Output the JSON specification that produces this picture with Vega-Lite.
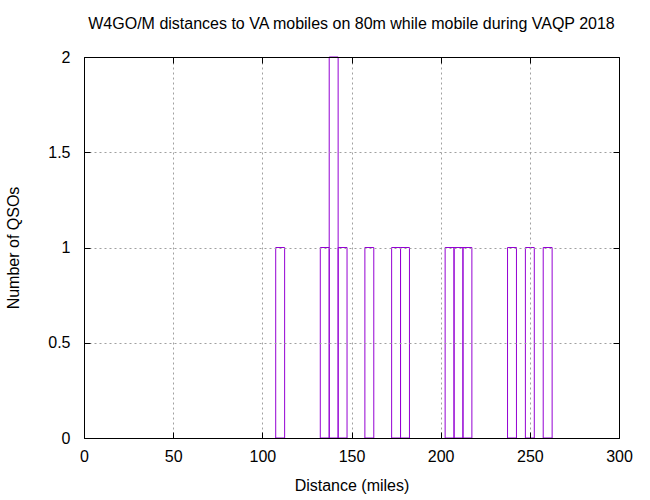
{
  "$schema": "https://vega.github.io/schema/vega-lite/v6.json",
  "width": 535,
  "height": 381,
  "autosize": {"type": "none"},
  "padding": {"left": 84, "top": 57, "right": 31, "bottom": 62},
  "background": "white",
  "title": {"text": "W4GO/M distances to VA mobiles on 80m while mobile during VAQP 2018", "font": "Liberation Sans", "fontSize": 16, "fontWeight": "normal", "color": "black", "offset": 17},
  "config": {"view": {"stroke": null}, "font": "Liberation Sans"},
  "data": {"values": [
    {"start": 107.5, "end": 112.5, "count": 1},
    {"start": 132.5, "end": 137.5, "count": 1},
    {"start": 137.5, "end": 142.5, "count": 2},
    {"start": 142.5, "end": 147.5, "count": 1},
    {"start": 157.5, "end": 162.5, "count": 1},
    {"start": 172.5, "end": 177.5, "count": 1},
    {"start": 177.5, "end": 182.5, "count": 1},
    {"start": 202.5, "end": 207.5, "count": 1},
    {"start": 207.5, "end": 212.5, "count": 1},
    {"start": 212.5, "end": 217.5, "count": 1},
    {"start": 237.5, "end": 242.5, "count": 1},
    {"start": 247.5, "end": 252.5, "count": 1},
    {"start": 257.5, "end": 262.5, "count": 1}
  ]},
  "resolve": {"axis": {"x": "independent", "y": "independent"}},
  "layer": [
    {
      "mark": {"type": "bar", "filled": false, "stroke": "#9400d3", "strokeWidth": 1, "fill": null},
      "encoding": {
        "x": {"field": "start", "type": "quantitative", "scale": {"domain": [0, 300], "nice": false, "zero": false},
          "axis": {"orient": "bottom", "values": [0, 50, 100, 150, 200, 250, 300], "title": "Distance (miles)", "titleFont": "Liberation Sans", "titleFontSize": 16, "titleFontWeight": "normal", "titleColor": "black", "titlePadding": 13,
            "labelFont": "Liberation Sans", "labelFontSize": 16, "labelColor": "black", "labelPadding": 16, "labelFlush": false, "labelOverlap": false,
            "tickSize": -6, "tickColor": "black", "tickWidth": 1, "domain": true, "domainColor": "black", "domainWidth": 1,
            "grid": true, "gridColor": "#a0a0a0", "gridDash": [2, 3], "gridWidth": 1, "zindex": 1}},
        "x2": {"field": "end"},
        "y": {"field": "count", "type": "quantitative", "scale": {"domain": [0, 2], "nice": false},
          "axis": {"orient": "left", "values": [0, 0.5, 1, 1.5, 2], "format": "~g", "title": "Number of QSOs", "titleFont": "Liberation Sans", "titleFontSize": 16, "titleFontWeight": "normal", "titleColor": "black", "titlePadding": 26,
            "labelFont": "Liberation Sans", "labelFontSize": 16, "labelColor": "black", "labelPadding": 20, "labelFlush": false, "labelOverlap": false,
            "tickSize": -6, "tickColor": "black", "tickWidth": 1, "domain": true, "domainColor": "black", "domainWidth": 1,
            "grid": true, "gridColor": "#a0a0a0", "gridDash": [2, 3], "gridWidth": 1, "zindex": 1}},
        "y2": {"datum": 0}
      }
    },
    {
      "mark": {"type": "bar", "opacity": 0},
      "encoding": {
        "x": {"field": "start", "type": "quantitative",
          "axis": {"orient": "top", "values": [0, 50, 100, 150, 200, 250, 300], "title": null, "labels": false,
            "tickSize": -6, "tickColor": "black", "domain": true, "domainColor": "black", "grid": false, "zindex": 1}},
        "x2": {"field": "end"},
        "y": {"field": "count", "type": "quantitative",
          "axis": {"orient": "right", "values": [0, 0.5, 1, 1.5, 2], "title": null, "labels": false,
            "tickSize": -6, "tickColor": "black", "domain": true, "domainColor": "black", "grid": false, "zindex": 1}},
        "y2": {"datum": 0}
      }
    }
  ]
}
